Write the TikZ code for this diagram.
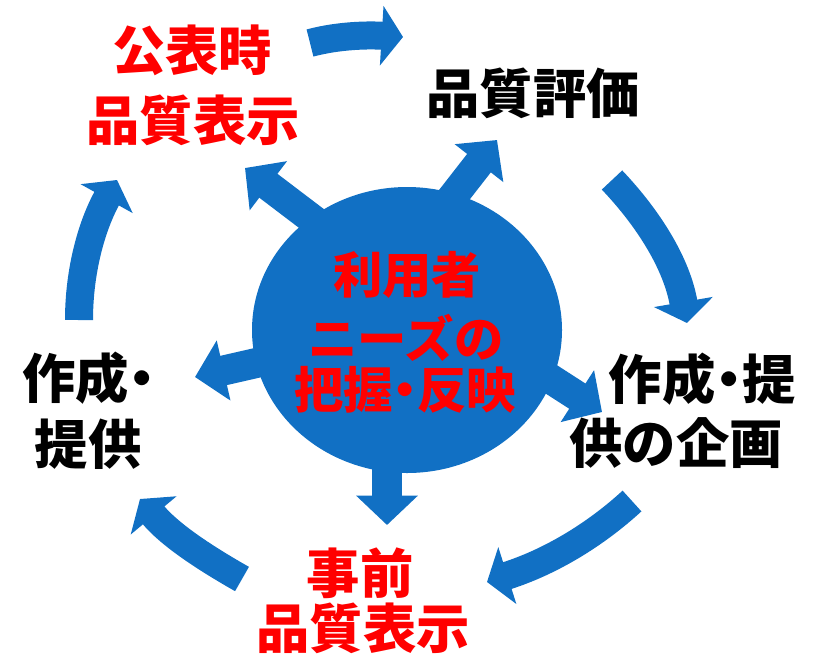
\documentclass[tikz,border=0pt]{standalone}
\usepackage{fontspec}
\newfontfamily\jp{Noto Sans CJK JP}
\usetikzlibrary{arrows.meta,shapes.geometric}
\definecolor{cblue}{RGB}{17,112,196}
\definecolor{cred}{RGB}{255,0,0}
\newcommand{\ndot}{\hbox to 0.5em{\hss ・\hss}}
\tikzset{
  outerarrow/.style={draw=cblue, line width=21pt, -{Triangle[length=16pt,width=44pt]}},
  spoke/.style={draw=cblue, line width=22.5pt, -{Triangle[length=22pt,width=45pt]}},
  bigtxt/.style={inner sep=0pt, font=\jp\bfseries\fontsize{40}{46}\selectfont},
  midtxt/.style={inner sep=0pt, font=\jp\bfseries\fontsize{37}{44}\selectfont, text=cred},
}
\begin{document}
\begin{tikzpicture}[x=0.75pt,y=-0.75pt]
\useasboundingbox (0,0) rectangle (816,661);
% spokes
\coordinate (s1a) at (349,247); \coordinate (s1b) at (245,168);
\coordinate (s2a) at (423,235); \coordinate (s2b) at (497,140);
\coordinate (s3a) at (300,353); \coordinate (s3b) at (195,377);
\coordinate (s4a) at (501,347); \coordinate (s4b) at (602,412);
\coordinate (s5a) at (387,420); \coordinate (s5b) at (387,525);
\draw[spoke] (s1a) -- (s1b);
\draw[spoke] (s2a) -- (s2b);
\draw[spoke] (s3a) -- (s3b);
\draw[spoke] (s4a) -- (s4b);
\draw[spoke] (s5a) -- (s5b);
% central ellipse
\node[fill=cblue, ellipse, minimum width=232.5pt, minimum height=214.5pt, inner sep=0pt] (hub) at (407,330) {};
% outer arrows
\coordinate (o1a) at (310,43);  \coordinate (o1b) at (403,37);
\coordinate (o2a) at (612,180); \coordinate (o2b) at (687,323);
\coordinate (o3a) at (632,501); \coordinate (o3b) at (487,582);
\coordinate (o4a) at (242,579); \coordinate (o4b) at (140,499);
\coordinate (o5a) at (79,320);  \coordinate (o5b) at (117,180);
\draw[outerarrow] (o1a) .. controls (340,35) and (370,35) .. (o1b);
\draw[outerarrow] (o2a) .. controls (650,220) and (677,265) .. (o2b);
\draw[outerarrow] (o3a) .. controls (595,535) and (550,562) .. (o3b);
\draw[outerarrow] (o4a) .. controls (205,558) and (170,535) .. (o4b);
\draw[outerarrow] (o5a) .. controls (79,270) and (92,225) .. (o5b);
% texts
\node[bigtxt, text=cred] (t1a) at (192,50) {公表時};
\node[bigtxt, text=cred] (t1b) at (193,120) {品質表示};
\node[bigtxt] (t2) at (533,93) {品質評価};
\node[bigtxt] (t3a) at (702,379) {作成\ndot 提};
\node[bigtxt] (t3b) at (676,443) {供の企画};
\node[bigtxt, text=cred] (t4a) at (360,573) {事前};
\node[bigtxt, text=cred] (t4b) at (363,628) {品質表示};
\node[bigtxt, anchor=west] (t5a) at (22,378) {作成\ndot};
\node[bigtxt] (t5b) at (88,444) {提供};
\node[midtxt] (c1) at (407,275) {利用者};
\node[midtxt] (c2) at (406,338) {ニーズの};
\node[midtxt] (c3) at (405,390) {把握\ndot 反映};
\end{tikzpicture}
\end{document}
